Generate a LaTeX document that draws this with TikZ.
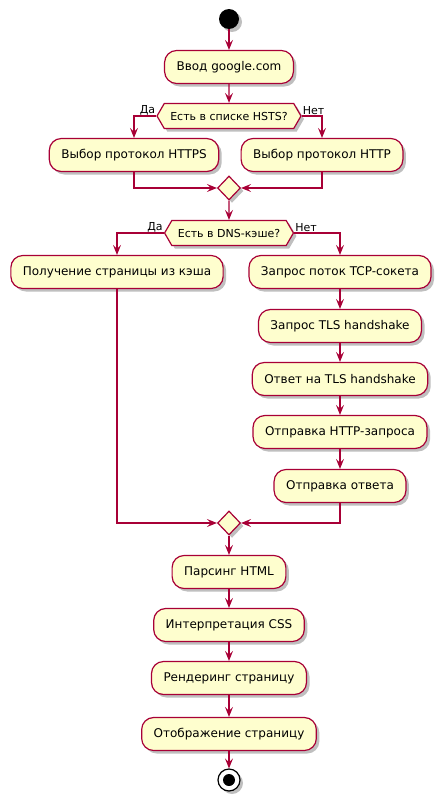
\documentclass[tikz,border=0pt]{standalone}
\usepackage{fontspec}
\setmainfont{DejaVu Sans}
\usetikzlibrary{shapes.geometric,shapes.symbols,arrows.meta,shadows}
\definecolor{umlred}{HTML}{A80036}
\definecolor{umlfill}{HTML}{FEFECE}

\begin{document}
\begin{tikzpicture}[x=1pt, y=-1pt,
    umlshadow/.style={drop shadow={shadow xshift=3pt, shadow yshift=-3pt, fill=black, opacity=0.25}},
    act/.style={draw=umlred, fill=umlfill, line width=1.2pt, rounded corners=12pt, minimum height=33pt, inner xsep=12pt, font=\fontsize{12}{14}\selectfont, umlshadow},
    test/.style={shape=signal, signal to=east and west, signal pointer angle=120, draw=umlred, fill=umlfill, line width=1.2pt, minimum height=25pt, inner xsep=6pt, inner ysep=0pt, font=\fontsize{11}{13}\selectfont, umlshadow},
    merge/.style={shape=diamond, draw=umlred, fill=umlfill, line width=1.2pt, minimum width=23pt, minimum height=24pt, inner sep=0pt, umlshadow},
    lbl/.style={font=\fontsize{11}{13}\selectfont, inner sep=1pt},
    flow/.style={draw=umlred, line width=1.2pt, -{Stealth[length=10pt, width=8pt, inset=4pt]}},
    join/.style={draw=umlred, line width=1.2pt}]
    \useasboundingbox (0,0) rectangle (444,803);

    % start and first steps
    \node[circle, fill=black, minimum size=20pt, inner sep=0pt, umlshadow] (start) at (229,19) {};
    \node[act] (input) at (229,67) {Ввод google.com};
    \node[test] (hsts) at (229,116) {Есть в списке HSTS?};
    \node[lbl, anchor=south east] (hstsyes) at (hsts.west) {Да};
    \node[lbl, anchor=south west] (hstsno) at (hsts.east) {Нет};
    \node[act] (https) at (134,155) {Выбор протокол HTTPS};
    \node[act] (http) at (322,155) {Выбор протокол HTTP};
    \node[merge] (mergeA) at (229,188) {};

    % DNS branch
    \node[test] (dns) at (229,233) {Есть в DNS-кэше?};
    \node[lbl, anchor=south east] (dnsyes) at (dns.west) {Да};
    \node[lbl, anchor=south west] (dnsno) at (dns.east) {Нет};
    \node[act] (cache) at (117,272) {Получение страницы из кэша};
    \node[act] (tcp) at (340,272) {Запрос поток TCP-сокета};
    \node[act] (tls) at (340,326) {Запрос TLS handshake};
    \node[act] (tlsans) at (340,379) {Ответ на TLS handshake};
    \node[act] (request) at (340,432) {Отправка HTTP-запроса};
    \node[act] (reply) at (340,486) {Отправка ответа};
    \node[merge] (mergeB) at (229,523) {};

    % rendering
    \node[act] (parse) at (229,572) {Парсинг HTML};
    \node[act] (css) at (229,625) {Интерпретация CSS};
    \node[act] (render) at (229,678) {Рендеринг страницу};
    \node[act] (show) at (229,734) {Отображение страницу};
    \node[circle, draw=black, fill=white, line width=1.2pt, minimum size=22pt, inner sep=0pt, umlshadow] (stop) at (229,780) {};
    \node[circle, fill=black, minimum size=12pt, inner sep=0pt] (stopdot) at (stop) {};

    % connectors
    \draw[flow] (start) -- (input);
    \draw[flow] (input) -- (hsts);
    \draw[flow] (hsts.west) -| (https.north);
    \draw[flow] (hsts.east) -| (http.north);
    \draw[flow] (https.south) |- (mergeA.west);
    \draw[flow] (http.south) |- (mergeA.east);
    \draw[flow] (mergeA) -- (dns);
    \draw[flow] (dns.west) -| (cache.north);
    \draw[flow] (dns.east) -| (tcp.north);
    \draw[flow] (tcp) -- (tls);
    \draw[flow] (tls) -- (tlsans);
    \draw[flow] (tlsans) -- (request);
    \draw[flow] (request) -- (reply);
    \draw[flow] (cache.south) |- (mergeB.west);
    \draw[flow] (reply.south) |- (mergeB.east);
    \draw[flow] (mergeB) -- (parse);
    \draw[flow] (parse) -- (css);
    \draw[flow] (css) -- (render);
    \draw[flow] (render) -- (show);
    \draw[flow] (show) -- (stop);
\end{tikzpicture}
\end{document}
